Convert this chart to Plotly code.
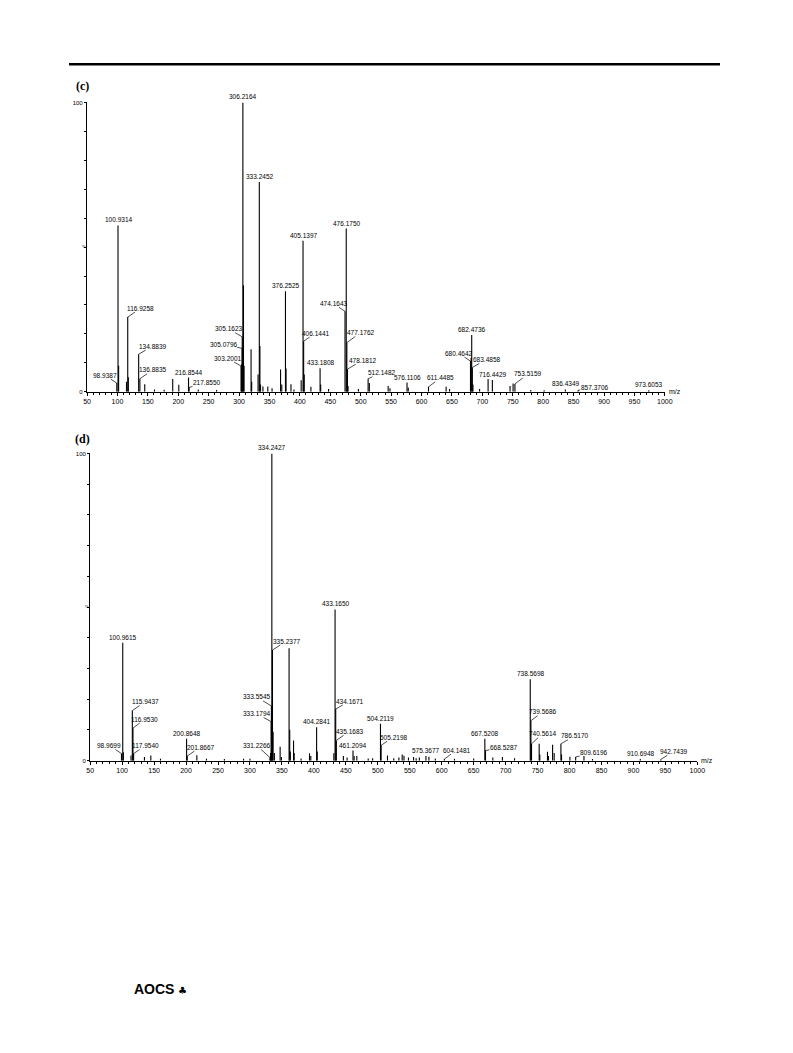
import plotly.graph_objects as go

# ---------------- data: panel (c) ----------------
c_mz = [98.9387, 100.9314, 101.93, 114.9, 116.9258, 117.93, 134.8839, 136.8835, 144.9, 160.9,
        176.8, 190.9, 200.9, 216.8544, 217.8550, 232.9, 263.0, 303.2001, 304.2, 305.0796,
        305.1623, 306.2164, 307.22, 308.22, 319.7, 320.7, 331.2, 333.2452, 334.25, 335.25,
        339.2, 347.2, 354.2, 368.2, 370.2, 376.2525, 377.26, 385.3, 390.2, 402.1,
        405.1397, 406.1441, 407.14, 418.1, 433.1808, 434.18, 447.1, 474.1643, 476.1750, 477.1762,
        478.1812, 479.18, 496.2, 512.1482, 514.15, 545.1, 548.1, 576.1106, 578.1, 611.4485,
        640.4, 646.0, 680.4642, 681.47, 682.4736, 683.4858, 684.5, 695.4, 709.4, 716.4429,
        745.5, 750.5, 753.5159, 779.5, 801.5, 836.4349, 857.3706, 973.6053]
c_int = [3.0, 57.5, 9.0, 3.5, 25.8, 5.0, 13.0, 4.5, 2.6, 0.8,
         0.7, 4.4, 2.4, 4.9, 1.5, 0.8, 0.6, 8.9, 9.5, 15.0,
         19.0, 100.0, 36.8, 9.0, 14.7, 3.5, 6.0, 72.5, 15.8, 2.5,
         1.8, 1.8, 1.2, 7.7, 2.5, 34.7, 8.0, 2.6, 0.8, 4.0,
         52.2, 17.5, 6.0, 1.7, 8.1, 2.5, 1.0, 27.8, 56.4, 17.0,
         7.8, 2.0, 1.0, 4.5, 3.0, 2.0, 1.2, 3.2, 1.5, 1.7,
         1.7, 1.0, 10.6, 11.8, 19.6, 8.4, 2.5, 1.0, 4.4, 4.1,
         2.0, 2.9, 2.7, 0.6, 0.5, 0.8, 0.5, 0.5]
c_labels = [98.9387, 100.9314, 116.9258, 134.8839, 136.8835, 216.8544, 217.8550, 303.2001,
            305.0796, 305.1623, 306.2164, 333.2452, 376.2525, 405.1397, 406.1441, 433.1808,
            474.1643, 476.1750, 477.1762, 478.1812, 512.1482, 576.1106, 611.4485, 680.4642,
            682.4736, 683.4858, 716.4429, 753.5159, 836.4349, 857.3706, 973.6053]

# ---------------- data: panel (d) ----------------
d_mz = [98.9699, 100.9615, 101.96, 113.9, 115.9437, 116.9530, 117.9540, 134.9, 144.9, 160.0,
        200.8648, 201.8667, 216.9, 232.0, 260.0, 290.0, 300.0, 331.2266, 332.2, 333.1794,
        333.5545, 334.2427, 335.2377, 336.24, 338.2, 347.2, 349.2, 361.2, 362.2, 363.2,
        368.2, 369.2, 380.0, 393.2, 395.2, 404.2841, 405.29, 431.2, 433.1650, 434.1671,
        435.1683, 446.2, 452.0, 461.2094, 463.0, 467.2, 485.0, 492.0, 504.2119, 505.2198,
        515.2, 525.0, 533.0, 538.2, 541.0, 548.0, 556.0, 560.0, 565.0, 575.3677,
        580.0, 590.0, 604.1481, 620.0, 650.0, 667.5208, 668.5287, 680.0, 695.0, 714.0,
        738.5698, 739.5686, 740.5614, 752.5, 753.5, 765.5, 767.0, 773.5, 776.0, 786.5170,
        787.5, 800.6, 809.6196, 822.6, 836.0, 910.6948, 942.7439]
d_int = [2.3, 38.4, 2.7, 1.7, 16.3, 10.6, 2.3, 1.2, 1.7, 0.6,
         7.1, 1.5, 1.8, 0.6, 0.5, 0.6, 0.6, 1.0, 2.5, 12.7,
         17.8, 100.0, 36.0, 9.4, 2.5, 4.5, 1.2, 36.6, 10.1, 3.0,
         6.6, 2.5, 0.7, 2.4, 1.5, 10.9, 3.0, 2.4, 49.2, 16.8,
         6.6, 1.5, 1.0, 3.3, 1.5, 1.5, 0.7, 0.8, 12.0, 5.0,
         1.7, 0.8, 1.0, 2.0, 1.6, 1.0, 1.2, 0.8, 1.0, 1.5,
         1.3, 0.7, 0.5, 0.6, 0.7, 7.1, 3.3, 1.0, 1.2, 0.8,
         26.5, 13.0, 5.5, 5.5, 2.0, 2.9, 1.5, 5.2, 2.5, 5.5,
         2.0, 1.3, 1.2, 1.5, 0.5, 0.5, 0.4]
d_labels = [98.9699, 100.9615, 115.9437, 116.9530, 117.9540, 200.8648, 201.8667, 331.2266,
            333.1794, 333.5545, 334.2427, 335.2377, 404.2841, 433.1650, 434.1671, 435.1683,
            461.2094, 504.2119, 505.2198, 575.3677, 604.1481, 667.5208, 668.5287, 738.5698,
            739.5686, 740.5614, 786.5170, 809.6196, 910.6948, 942.7439]

x_ticks = list(range(50, 1001, 50))

# ---------------- layout helpers (positions / styles) ----------------
W, H = 793, 1053
def px(x): return x / W
def py(y): return 1 - y / H

# leader-line offsets (pixels, label centre relative to peak tip)
c_leaders = {"98.9387": (-12, -8), "116.9258": (13, -9), "134.8839": (14, -8),
             "136.8835": (13, -9), "217.8550": (17, -5), "303.2001": (-14, -8),
             "305.0796": (-19, -4), "305.1623": (-14, -8), "406.1441": (12, -8),
             "474.1643": (-12, -8), "477.1762": (14, -10), "478.1812": (15, -9),
             "512.1482": (13, -6), "611.4485": (12, -9), "680.4642": (-12, -8),
             "683.4858": (14, -8), "753.5159": (13, -10), "857.3706": (16, -3)}
d_leaders = {"98.9699": (-12, -8), "115.9437": (13, -9), "116.9530": (12, -9),
             "117.9540": (12, -8), "201.8667": (13, -9), "331.2266": (-13, -12),
             "333.1794": (-15, -8), "333.5545": (-15, -9), "335.2377": (14, -9),
             "434.1671": (14, -8), "435.1683": (13, -9), "505.2198": (12, -8),
             "604.1481": (12, -9), "668.5287": (18, -3), "739.5686": (12, -9),
             "740.5614": (11, -10), "786.5170": (14, -8), "809.6196": (18, -4),
             "942.7439": (13, -8)}

LABEL_FONT = dict(family="Liberation Sans, Arial, sans-serif", size=6.5, color="black")
TICK_FONT = dict(family="Liberation Sans, Arial, sans-serif", size=7, color="black")


def sticks(mz, inten):
    xs, ys = [], []
    for m, h in zip(mz, inten):
        xs += [m, m, None]
        ys += [0, h, None]
    return xs, ys


fig = go.Figure()
for mz, inten, xa, ya in [(c_mz, c_int, "x", "y"), (d_mz, d_int, "x2", "y2")]:
    xs, ys = sticks(mz, inten)
    fig.add_trace(go.Scatter(x=xs, y=ys, mode="lines", xaxis=xa, yaxis=ya,
                             line=dict(color="black", width=1.1),
                             hoverinfo="skip", showlegend=False, cliponaxis=False))

annotations = []
for mz, inten, labels, leaders, xr, yr in [(c_mz, c_int, c_labels, c_leaders, "x", "y"),
                                            (d_mz, d_int, d_labels, d_leaders, "x2", "y2")]:
    lookup = dict(zip(mz, inten))
    for lab in labels:
        txt = f"{lab:.4f}"
        h = lookup[lab]
        if txt in leaders:
            ax, ay = leaders[txt]
            annotations.append(dict(x=lab, y=h, xref=xr, yref=yr, text=txt, showarrow=True,
                                    ax=ax, ay=ay, arrowhead=0, arrowwidth=0.7,
                                    arrowcolor="black", standoff=0, startstandoff=0,
                                    font=LABEL_FONT, borderpad=0))
        else:
            annotations.append(dict(x=lab, y=h, xref=xr, yref=yr, text=txt, showarrow=False,
                                    xanchor="center", yanchor="bottom", yshift=1,
                                    font=LABEL_FONT, borderpad=0))


def ptext(x, y, text, font, xanchor="center", yanchor="middle"):
    return dict(x=px(x), y=py(y), xref="paper", yref="paper", text=text, showarrow=False,
                xanchor=xanchor, yanchor=yanchor, font=font, borderpad=0)


SERIF = dict(family="Liberation Serif, Times New Roman, serif", size=12, color="black")
TINY = dict(family="Liberation Sans, Arial, sans-serif", size=4, color="black")
annotations += [
    ptext(80, 83, "<b>(c)</b>", SERIF),
    ptext(80, 438, "<b>(d)</b>", SERIF),
    ptext(81, 245, "%", TINY),
    ptext(84, 607, "%", TINY),
    ptext(674, 391, "m/z", TICK_FONT, xanchor="left"),
    ptext(707, 762, "m/z", TICK_FONT, xanchor="left"),
    ptext(131, 992, "<b>AOCS</b>", dict(family="Liberation Sans, Arial, sans-serif", size=14,
                                        color="black"), xanchor="left"),
    ptext(176, 993, "♣", dict(family="DejaVu Sans, sans-serif", size=10, color="black"),
          xanchor="left"),
]

xaxis_common = dict(range=[50, 1000], tickvals=x_ticks, ticks="outside", ticklen=3,
                    tickwidth=1, tickcolor="black", tickfont=TICK_FONT, showgrid=False,
                    zeroline=False, showline=True, linecolor="black", linewidth=1.3,
                    minor=dict(dtick=10, ticks="outside", ticklen=2, tickcolor="black", showgrid=False),
                    fixedrange=True)
yaxis_common = dict(range=[0, 100], tickvals=[0, 100], ticktext=["0", "100"], ticks="outside",
                    ticklen=2, tickwidth=1, tickcolor="black",
                    tickfont=dict(family="Liberation Sans, Arial, sans-serif", size=6, color="black"),
                    showgrid=False, zeroline=False, showline=True, linecolor="black", linewidth=1.3,
                    minor=dict(dtick=10, ticks="outside", ticklen=2, tickcolor="black", showgrid=False),
                    fixedrange=True)

fig.update_layout(
    width=W, height=H, autosize=False,
    margin=dict(l=0, r=0, t=0, b=0),
    paper_bgcolor="white", plot_bgcolor="white",
    xaxis=dict(domain=[px(84.3), px(671)], anchor="y", **xaxis_common),
    yaxis=dict(domain=[py(391), py(100)], anchor="x", **yaxis_common),
    xaxis2=dict(domain=[px(87.5), px(704)], anchor="y2", **xaxis_common),
    yaxis2=dict(domain=[py(762), py(453)], anchor="x2", **yaxis_common),
    annotations=annotations,
    shapes=[dict(type="line", xref="paper", yref="paper", x0=px(66), x1=px(727),
                 y0=py(61.5), y1=py(61.5), line=dict(color="black", width=2.5))],
)

fig.write_html("out.html", config={"displayModeBar": False},
               post_script="document.body.style.margin='0';document.body.style.overflow='hidden';")
